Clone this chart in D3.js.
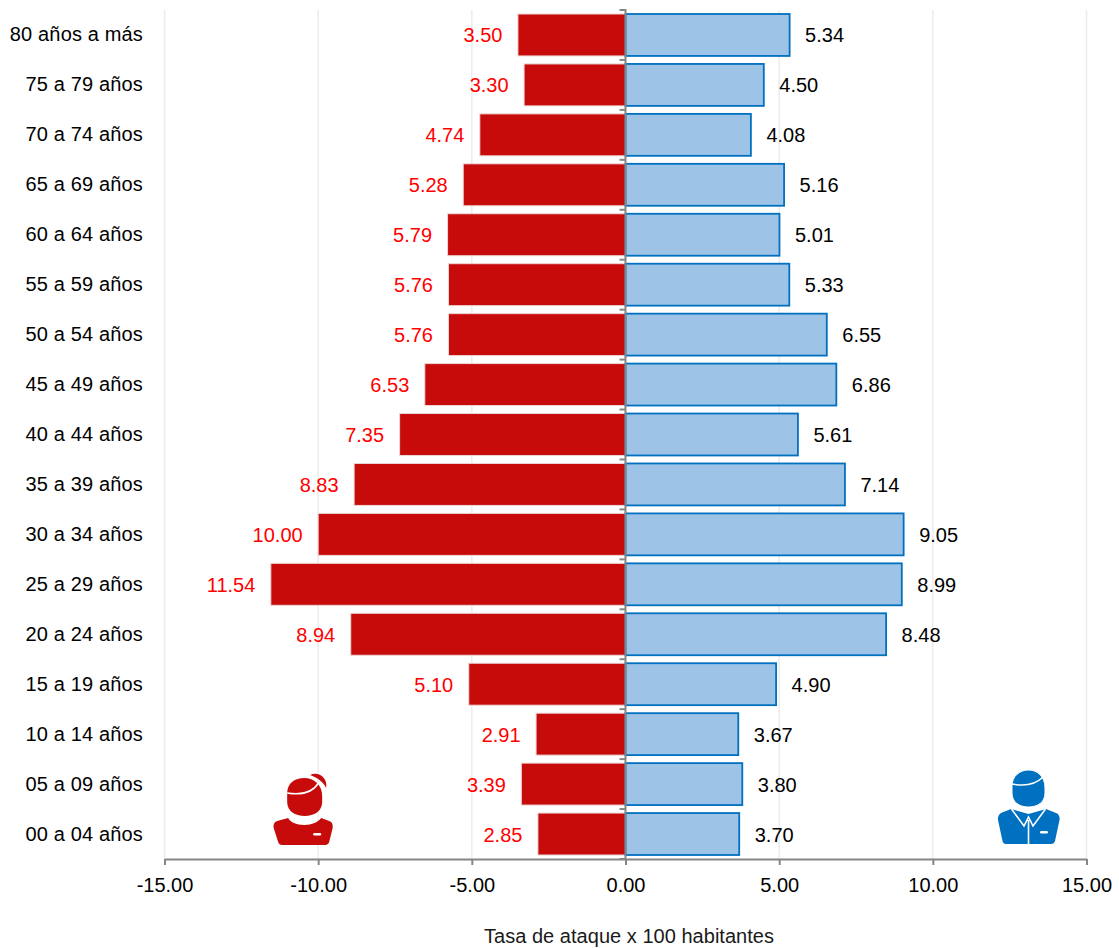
<!DOCTYPE html>
<html><head><meta charset="utf-8">
<script src="https://cdn.jsdelivr.net/npm/d3@7/dist/d3.min.js"></script>
<style>html,body{margin:0;padding:0;background:#fff}svg{display:block}text{font-family:"Liberation Sans",Arial,sans-serif}</style>
</head><body><div id="c"></div>
<script>
const categories=["80 años a más","75 a 79 años","70 a 74 años","65 a 69 años","60 a 64 años","55 a 59 años","50 a 54 años","45 a 49 años","40 a 44 años","35 a 39 años","30 a 34 años","25 a 29 años","20 a 24 años","15 a 19 años","10 a 14 años","05 a 09 años","00 a 04 años"];
const mujeres=[3.50,3.30,4.74,5.28,5.79,5.76,5.76,6.53,7.35,8.83,10.00,11.54,8.94,5.10,2.91,3.39,2.85];
const hombres=[5.34,4.50,4.08,5.16,5.01,5.33,6.55,6.86,5.61,7.14,9.05,8.99,8.48,4.90,3.67,3.80,3.70];
const xTicks=[-15,-10,-5,0,5,10,15];
const axisTitle="Tasa de ataque x 100 habitantes";

const W=1119,H=948;
const svg=d3.select("#c").append("svg").attr("width",W).attr("height",H);
const x=d3.scaleLinear().domain([-15,15]).range([164.5,1086.5]);
const y=d3.scaleBand().domain(categories).range([10,859]).paddingInner(0.16).paddingOuter(0.08);
const step=y.step();
const yTop=10,yBot=859,grey="#868686";

svg.append("g").selectAll("line").data(xTicks.filter(d=>d!==0)).join("line")
 .attr("x1",d=>x(d)).attr("x2",d=>x(d)).attr("y1",yTop).attr("y2",yBot)
 .attr("stroke","#ececec").attr("stroke-width",1.5);

svg.append("g").selectAll("rect").data(mujeres).join("rect")
 .attr("x",d=>x(-d)).attr("width",d=>x(0)-x(-d))
 .attr("y",(d,i)=>y(categories[i])).attr("height",y.bandwidth())
 .attr("fill","#c70b0b").attr("stroke","#ecd6d6").attr("stroke-width",1);
svg.append("g").selectAll("rect").data(hombres).join("rect")
 .attr("x",x(0)).attr("width",d=>x(d)-x(0))
 .attr("y",(d,i)=>y(categories[i])).attr("height",y.bandwidth())
 .attr("fill","#9dc3e6").attr("stroke","#0070c0").attr("stroke-width",1.8);

const fs=20;
svg.append("g").selectAll("text").data(mujeres).join("text")
 .attr("x",d=>x(-d)-15.5).attr("y",(d,i)=>y(categories[i])+y.bandwidth()/2+7.5)
 .attr("text-anchor","end").attr("font-size",fs).attr("fill","#ff0000").text(d=>d.toFixed(2));
svg.append("g").selectAll("text").data(hombres).join("text")
 .attr("x",d=>x(d)+15.5).attr("y",(d,i)=>y(categories[i])+y.bandwidth()/2+7.5)
 .attr("font-size",fs).attr("fill","#000").text(d=>d.toFixed(2));
svg.append("g").selectAll("text").data(categories).join("text")
 .attr("x",143).attr("y",d=>y(d)+y.bandwidth()/2+6.5)
 .attr("text-anchor","end").attr("font-size",fs).attr("letter-spacing",0.15).attr("fill","#000").text(d=>d);

// axes
const ax=svg.append("g").attr("transform",`translate(0,${yBot})`)
 .call(d3.axisBottom(x).tickValues(xTicks).tickFormat(d=>d.toFixed(2)).tickSize(6).tickSizeOuter(0));
ax.select(".domain").attr("stroke",grey).attr("stroke-width",2);
ax.selectAll(".tick line").attr("stroke",grey).attr("stroke-width",2);
ax.selectAll(".tick text").attr("font-family",'"Liberation Sans",Arial,sans-serif').attr("font-size",fs).attr("fill","#000").attr("dy",0).attr("y",33);

const ticksY=d3.range(categories.length+1).map(i=>yTop+i*step);
svg.append("g").selectAll("line").data(ticksY).join("line")
 .attr("x1",x(0)-6).attr("x2",x(0)).attr("y1",d=>d).attr("y2",d=>d).attr("stroke",grey).attr("stroke-width",2);
svg.append("line").attr("x1",x(0)).attr("x2",x(0)).attr("y1",yTop-1).attr("y2",yBot).attr("stroke",grey).attr("stroke-width",2);

svg.append("text").attr("x",629).attr("y",943).attr("text-anchor","middle").attr("font-size",fs).attr("fill","#1a1a1a")
 .attr("textLength",290).attr("lengthAdjust","spacing").text(axisTitle);

// iconos
const f=svg.append("g").attr("transform",`translate(${x(-10)-78},750)`).attr("fill","#c70b0b");
f.append("path").attr("d","M70,25 C78,21 88,28 86,38 C84,33 78,28 70,25Z");
f.append("path").attr("d","M47,43 C47,33 55,28 64,28 C74,28 82,35 82,46 V52 C82,61 74,66 64.500,66 C55,66 47,61 47,52Z");
f.append("path").attr("d","M47,43 Q70,47 79,32").attr("fill","none").attr("stroke","#fff").attr("stroke-width",1.5);
f.append("path").attr("d","M48,68 C50,72 56,75 64,75 C72,75 78,72 81,68 L89,71 C92,72 93,75 92.500,78 L89,92 C88.500,94 87,95 85,95 H42 C40,95 38.500,94 38,92 L33.500,78 C33,75 34,72 37,71Z");
f.append("rect").attr("x",73).attr("y",83).attr("width",8).attr("height",2.5).attr("rx",1.2).attr("fill","#fff");

const m=svg.append("g").attr("transform",`translate(${x(15)-116.5},750)`).attr("fill","#0070c0");
m.append("path").attr("d","M41,59 L58.500,64 L76,59 L86,63 C89,64 90,67 89.500,70 L85,91 C84.500,93 83,94 81,94 H36 C34,94 33,93 32.500,91 L28,70 C27.500,67 29,64 31,63Z");
m.append("path").attr("d","M41.500,59 L54,76 L58.500,67 L63,76 L75.500,59 M58.500,70 V95").attr("fill","none").attr("stroke","#fff").attr("stroke-width",1.6);
m.append("path").attr("d","M42,36 C42,26 50,20 58.500,20 C67,20 75,26 75,38 V43 C75,52 68,57 58.500,57 C49,57 42,52 42,43Z").attr("stroke","#fff").attr("stroke-width",1);
m.append("path").attr("d","M42,34 Q62,38 73,27").attr("fill","none").attr("stroke","#fff").attr("stroke-width",1.5);
m.append("rect").attr("x",70).attr("y",81).attr("width",8).attr("height",2.5).attr("rx",1.2).attr("fill","#fff");
</script></body></html>
